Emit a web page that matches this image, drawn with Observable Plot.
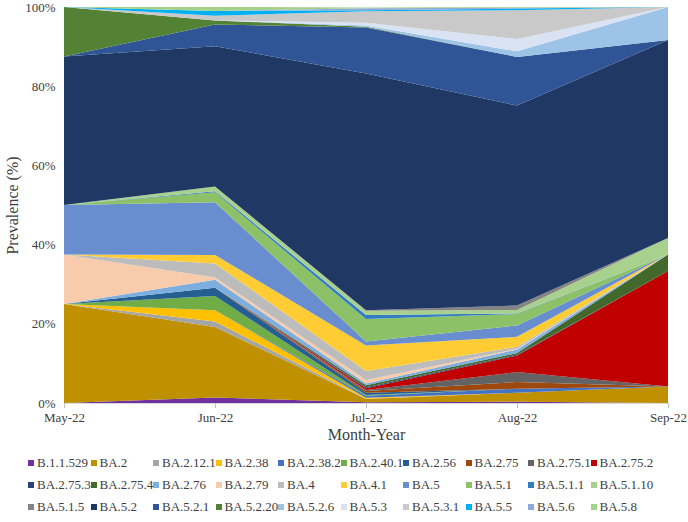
<!DOCTYPE html>
<html>
<head>
<meta charset="utf-8">
<script src="https://cdn.jsdelivr.net/npm/d3@7"></script>
<script src="https://cdn.jsdelivr.net/npm/@observablehq/plot@0.6"></script>
<style>
  body { margin: 0; background: #fff; font-family: "Liberation Serif", "Times New Roman", serif; }
  #legend { display: grid; grid-template-columns: repeat(10, 62.5px); padding-left: 28px; margin-top: 4px; }
  .item { height: 22px; line-height: 22px; font-size: 13px; color: #404040; white-space: nowrap; }
  .sw { display: inline-block; width: 6px; height: 6px; margin-right: 3px; vertical-align: 1px; }
</style>
</head>
<body>
<div id="chart"></div>
<div id="legend"></div>
<script>
const months = ["May-22", "Jun-22", "Jul-22", "Aug-22", "Sep-22"];
const variants = ["B.1.1.529","BA.2","BA.2.12.1","BA.2.38","BA.2.38.2","BA.2.40.1","BA.2.56","BA.2.75","BA.2.75.1","BA.2.75.2",
  "BA.2.75.3","BA.2.75.4","BA.2.76","BA.2.79","BA.4","BA.4.1","BA.5","BA.5.1","BA.5.1.1","BA.5.1.10",
  "BA.5.1.5","BA.5.2","BA.5.2.1","BA.5.2.20","BA.5.2.6","BA.5.3","BA.5.3.1","BA.5.5","BA.5.6","BA.5.8"];
const colors = ["#7030A0","#BF9000","#A5A5A5","#FFC000","#4472C4","#70AD47","#255E91","#9E480E","#636363","#C00000",
  "#264478","#43682B","#7CAFDD","#F8CBAD","#BCBCBC","#FFCD33","#698ED0","#8CC168","#327DC2","#A9D18E",
  "#848484","#203864","#2F5597","#548235","#9DC3E6","#DAE3F3","#C9C9C9","#00B0F0","#8FAADC","#A3D18A"];

// prevalence (%) per month, in the order of `variants`
const may22 = [0,25,0,0,0,0,0,0,0,0, 0,0,0,12.5,0,0,12.5,0,0,0, 0,37.5,0,12.5,0,0,0,0,0,0];
const jun22 = [1.4,17.8,1.4,2.8,0,3.6,2.1,0,0,0, 0,0,2.0,0.6,3.5,2.2,13.3,2.5,0.3,1.2, 0,35.4,5.5,1.0,0,0,1.2,1.2,0,1.0];
const jul22 = [0.2,0.8,0.1,0.2,0.5,0.2,0.6,0.4,0.3,0.4, 0.3,0.5,0.4,0.9,2.3,6.4,1.0,5.7,1.0,1.1, 0.1,59.8,11.6,0.2,0.3,0.7,2.9,0.3,0.5,0.2];
const aug22 = [0.3,2.3,0,0,1.0,0,0,1.7,2.5,4.2, 0.2,0.4,0.9,0.2,0.5,2.5,2.9,2.9,0.1,0.9, 1.1,50.5,12.3,0,1.4,3.1,7.3,0.4,0.2,0.2];
const sep22 = [0,4.17,0,0,0,0,0,0,0,29.17, 0,4.17,0,0,0,0,0,0,0,4.17, 0,50,0,0,8.33,0,0,0,0,0];
const yTicks = [0, 20, 40, 60, 80, 100];

const series = [may22, jun22, jul22, aug22, sep22];
const data = [];
months.forEach((m, i) => variants.forEach((v, j) => data.push({month: m, variant: v, value: series[i][j]})));

const txt = "#404040";
const chart = Plot.plot({
  width: 688, height: 448,
  marginLeft: 64, marginRight: 20, marginTop: 7, marginBottom: 45,
  style: {fontFamily: "'Liberation Serif', 'Times New Roman', serif", fontSize: "13px", color: txt, background: "white"},
  x: {type: "point", domain: months, padding: 0, label: null},
  y: {domain: [0, 100], label: null},
  color: {domain: variants, range: colors},
  marks: [
    Plot.areaY(data, {x: "month", y: "value", fill: "variant", z: "variant"}),
    Plot.ruleY([0], {stroke: "#D9D9D9"}),
    Plot.axisY({ticks: yTicks, tickFormat: d => d + "%", tickSize: 0, tickPadding: 9, fontSize: 13, fill: txt, label: null}),
    Plot.axisX({tickSize: 5, tickPadding: 4, stroke: "#BFBFBF", fill: txt, fontSize: 13, label: null}),
    Plot.text(["Month-Year"], {frameAnchor: "bottom", dy: 36, fontSize: 16, fill: txt, textAnchor: "middle"}),
    Plot.text(["Prevalence (%)"], {frameAnchor: "left", dx: -52, rotate: -90, fontSize: 16, fill: txt, textAnchor: "middle"})
  ]
});
document.getElementById("chart").append(chart);

const legend = document.getElementById("legend");
variants.forEach((v, j) => {
  const d = document.createElement("div");
  d.className = "item";
  const s = document.createElement("span");
  s.className = "sw";
  s.style.background = colors[j];
  d.append(s, document.createTextNode(v));
  legend.append(d);
});
</script>
</body>
</html>
